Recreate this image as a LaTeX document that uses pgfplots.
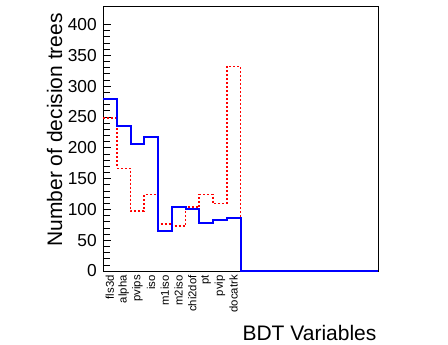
\documentclass[border=0pt]{standalone}
\usepackage{fontspec}
\setmainfont{Liberation Sans}
\usepackage{pgfplots}
\pgfplotsset{compat=1.18}
\begin{document}
\begin{tikzpicture}
\useasboundingbox (0,0) rectangle (336pt,258pt);
\begin{axis}[
  at={(77.25pt,54.75pt)}, anchor=south west,
  scale only axis, width=206.25pt, height=198.75pt,
  xmin=0, xmax=20, ymin=0, ymax=430,
  axis line style={black, line width=0.6pt},
  xtick={0.5,1.5,...,9.5},
  xticklabels={fls3d,alpha,pvips,iso,m1iso,m2iso,chi2dof,pt,pvip,docatrk},
  minor xtick={0,1,...,20},
  xtick pos=bottom, ytick pos=left,
  tick align=inside,
  x tick style={draw=none},
  minor x tick style={black, line width=0.5pt},
  minor tick length=5.25pt,
  ytick={0,50,...,400},
  minor y tick num=4,
  y tick style={black, line width=0.5pt},
  major tick length=6pt,
  /pgf/number format/assume math mode=true,
  x tick label style={rotate=90, anchor=east, inner xsep=3pt, inner ysep=0pt, font=\fontsize{8.5}{9}\selectfont},
  y tick label style={anchor=east, inner sep=4.5pt, font=\fontsize{13}{14}\selectfont},
  xlabel={BDT Variables},
  ylabel={Number of decision trees},
  xlabel style={at={(axis description cs:0.995,-0.262)}, anchor=base east, inner sep=0pt, font=\fontsize{15.75}{17}\selectfont},
  ylabel style={at={(axis description cs:-0.149,0.974)}, anchor=base east, inner sep=0pt, font=\fontsize{15.75}{17}\selectfont},
  clip=false,
]
\addplot[color={rgb,255:red,255;green,0;blue,0}, line width=1.2pt, dash pattern=on 1.5pt off 1.5pt, const plot mark left] coordinates {
(0,248) (1,166.6) (2,97.7) (3,124.3) (4,76.5) (5,73.3) (6,103.7) (7,124.3) (8,109.6) (9,331.6)
(10,0) (11,0) (12,0) (13,0) (14,0) (15,0) (16,0) (17,0) (18,0) (19,0) (20,0)};
\addplot[color={rgb,255:red,0;green,0;blue,255}, line width=1.5pt, const plot mark left] coordinates {
(0,279.5) (1,235.5) (2,205.7) (3,218) (4,65) (5,103.7) (6,100.4) (7,77.6) (8,82) (9,86.3)
(10,0) (11,0) (12,0) (13,0) (14,0) (15,0) (16,0) (17,0) (18,0) (19,0) (20,0)};
\end{axis}
\end{tikzpicture}
\end{document}
